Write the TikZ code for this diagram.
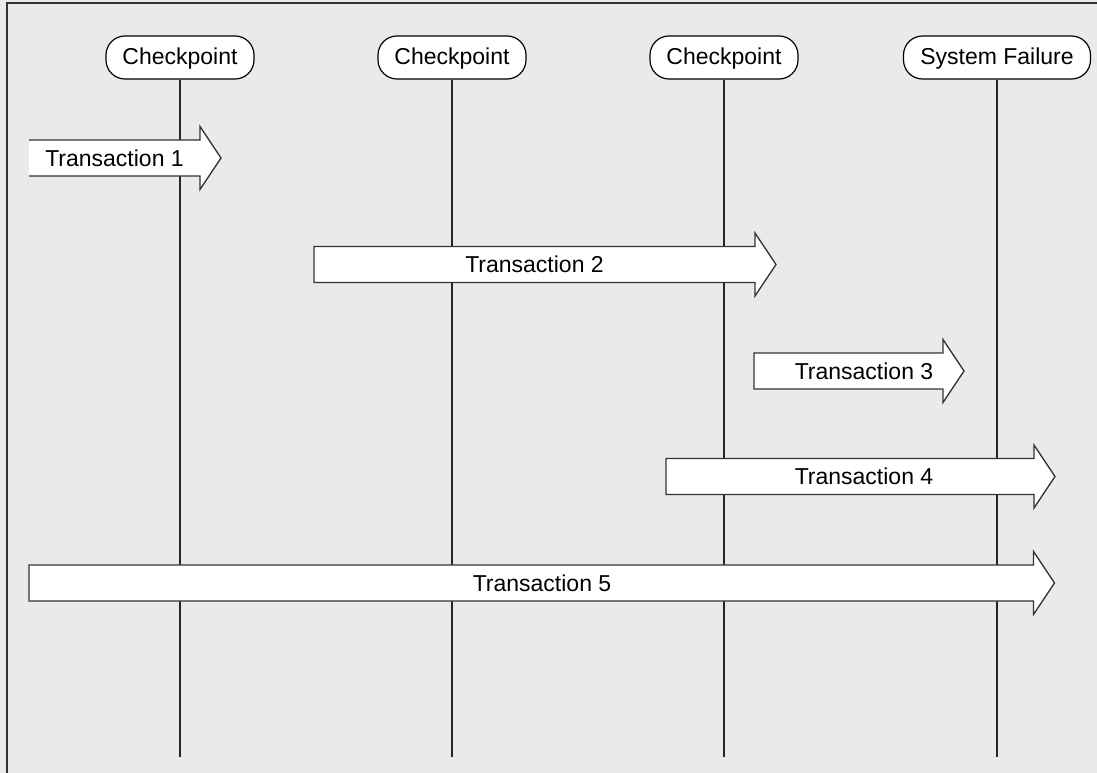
\documentclass[tikz,border=0pt]{standalone}
\usepackage{fontspec}
\setmainfont{Liberation Sans}
\usetikzlibrary{calc}
\definecolor{panel}{HTML}{EAEAEA}
\definecolor{rim}{HTML}{333333}

\begin{document}
\begin{tikzpicture}[x=1pt,y=-1pt,
    font=\fontsize{23}{28}\selectfont,
    event/.style={draw,fill=white,line width=1.2pt,rounded corners=19pt,
      minimum width=148pt,minimum height=43pt,inner xsep=16pt,text depth=2pt},
    timeline/.style={line width=1.3pt,black!85},
    txarrow/.style={fill=white,draw=rim,line width=1.3pt,line join=miter}]
          \useasboundingbox (0,0) rectangle (1097,773);
          \fill[panel] (0,0) rectangle (1097,773);
          \draw[rim,line width=2pt] (6.5,773) -- (6.5,3.5) -- (1097,3.5);
          \node[event] (C1) at (180,57.5) {Checkpoint};
          \node[event] (C2) at (452,57.5) {Checkpoint};
          \node[event] (C3) at (724,57.5) {Checkpoint};
          \node[event,minimum width=187pt] (F) at (997,57.5) {System Failure};
          \coordinate (E1) at (180,757);
          \coordinate (E2) at (452,757);
          \coordinate (E3) at (724,757);
          \coordinate (E4) at (997,757);
          \draw[timeline] (C1) -- (E1);
          \draw[timeline] (C2) -- (E2);
          \draw[timeline] (C3) -- (E3);
          \draw[timeline] (F) -- (E4);
          % transaction 1 runs in from the left edge
          \fill[white] (29,140) -- (200,140) -- (200,126.5) -- (221,158) -- (200,189.5) -- (200,176) -- (29,176) -- cycle;
          \draw[txarrow,fill=none] (29,140) -- (200,140) -- (200,126.5) -- (221,158) -- (200,189.5) -- (200,176) -- (29,176);
          \draw[txarrow] (314,246.5) -- (755,246.5) -- (755,233) -- (776,264.5) -- (755,296) -- (755,282.5) -- (314,282.5) -- cycle;
          \draw[txarrow] (754,353) -- (943,353) -- (943,339.5) -- (964,371) -- (943,402.5) -- (943,389) -- (754,389) -- cycle;
          \draw[txarrow] (666,458.5) -- (1034,458.5) -- (1034,445) -- (1055,476.5) -- (1034,508) -- (1034,494.5) -- (666,494.5) -- cycle;
          \draw[txarrow] (29,565) -- (1033.5,565) -- (1033.5,551.5) -- (1054.5,583) -- (1033.5,614.5) -- (1033.5,601) -- (29,601) -- cycle;
          \node (T1) at (114.5,158) {Transaction 1};
          \node (T2) at (534.5,264.5) {Transaction 2};
          \node (T3) at (864,371) {Transaction 3};
          \node (T4) at (864,476.5) {Transaction 4};
          \node (T5) at (542,583) {Transaction 5};
        \end{tikzpicture}
\end{document}
